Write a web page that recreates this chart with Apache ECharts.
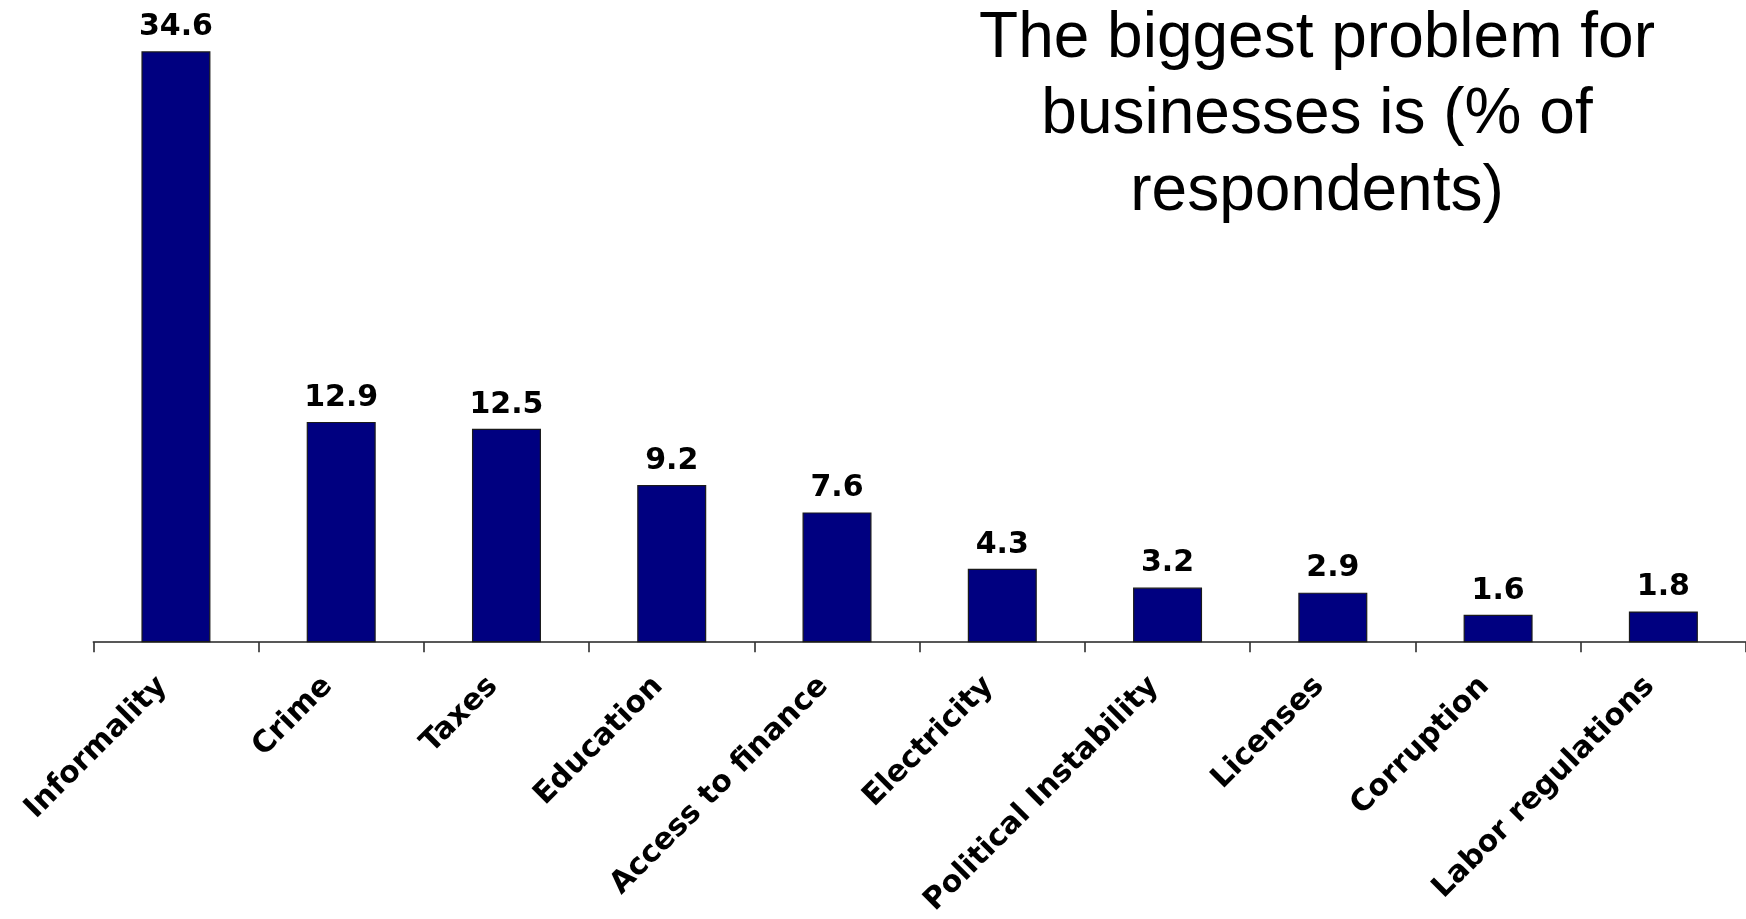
<!DOCTYPE html>
<html>
<head>
<meta charset="utf-8">
<script src="https://cdn.jsdelivr.net/npm/echarts@6/dist/echarts.min.js"></script>
<style>
html,body{margin:0;padding:0;background:#fff;}
#chart{width:1746px;height:919px;}
</style>
</head>
<body>
<div id="chart"></div>
<script>
const categories = ["Informality","Crime","Taxes","Education","Access to finance","Electricity","Political Instability","Licenses","Corruption","Labor regulations"];
const values = [34.6, 12.9, 12.5, 9.2, 7.6, 4.3, 3.2, 2.9, 1.6, 1.8];
const titleLines = ["The biggest problem for", "businesses is (% of", "respondents)"];

const chart = echarts.init(document.getElementById('chart'), null, {renderer:'canvas'});
chart.setOption({
  backgroundColor:'#ffffff',
  animation:false,
  graphic:[{
    type:'text', x:1317, y:1,
    style:{
      text: titleLines.join('\n'),
      font:'64px "Liberation Sans", Arial, sans-serif',
      fill:'#000', align:'center', verticalAlign:'top', lineHeight:76.5
    }
  }],
  grid:{left:93.3, right:0, top:44.5, bottom:275, containLabel:false},
  xAxis:{
    type:'category', data:categories,
    axisLine:{lineStyle:{color:'#222', width:1.5}},
    axisTick:{show:true, length:10, inside:false, lineStyle:{color:'#222', width:1.5}},
    axisLabel:{rotate:45, margin:26, interval:0, color:'#000', fontWeight:'bold',
      fontFamily:'"DejaVu Sans", Verdana, sans-serif', fontSize:30, padding:[0,19,0,0]}
  },
  yAxis:{type:'value', min:0, max:35, show:false, splitLine:{show:false}},
  series:[{
    type:'bar', data:values, barWidth:69,
    itemStyle:{color:'#000080', borderColor:'#1a1a1a', borderWidth:1.2},
    label:{show:true, position:'top', distance:9, color:'#000', fontWeight:'bold',
      fontFamily:'"DejaVu Sans", Verdana, sans-serif', fontSize:30,
      formatter:(p)=>p.value.toFixed(1)}
  }]
});
</script>
</body>
</html>
